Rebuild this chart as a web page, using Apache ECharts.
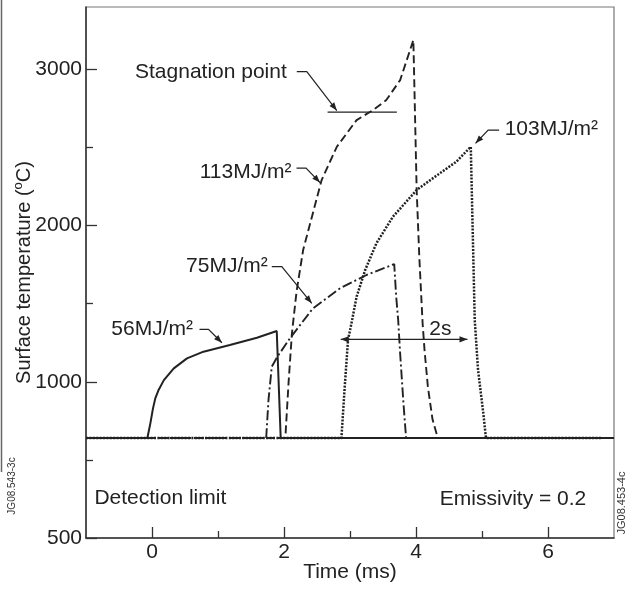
<!DOCTYPE html>
<html><head><meta charset="utf-8">
<script src="https://cdn.jsdelivr.net/npm/echarts@6/dist/echarts.min.js"></script>
<style>html,body{margin:0;padding:0;background:#fff}#c{width:633px;height:592px}</style>
</head><body><div id="c"></div>
<script>
// ---- data (time in ms, temperature in °C) ----
const xMajorTicks = [0, 2, 4, 6];
const xMinorTicks = [1, 3, 5];
const yMajorTicks = [500, 1000, 2000, 3000];
const yMinorTicks = [750, 1500, 2500];

const t56 = [-1, -0.07, -0.025, 0.015, 0.05, 0.10, 0.18, 0.33, 0.53, 0.78, 1.18, 1.59, 1.89, 1.95, 7];
const T56 = [820, 820, 867, 915, 947, 974, 1011, 1086, 1150, 1193, 1236, 1282, 1325, 820, 820];

const t75 = [-1, 1.73, 1.765, 1.815, 1.90, 2.09, 2.44, 2.85, 3.25, 3.67, 3.70, 3.73, 3.76, 3.81, 3.85, 6.9];
const T75 = [820, 820, 942, 1097, 1161, 1279, 1471, 1599, 1684, 1754, 1545, 1396, 1180, 931, 820, 820];

const t113 = [-1, 2.02, 2.07, 2.12, 2.19, 2.29, 2.57, 2.80, 3.10, 3.35, 3.55, 3.76, 3.96, 3.98, 4.01, 4.05, 4.10, 4.13, 4.18, 4.25, 4.33, 6.9];
const T113 = [820, 820, 1000, 1310, 1577, 1844, 2292, 2505, 2676, 2740, 2804, 2932, 3188, 3199, 2228, 1800, 1375, 1200, 984, 880, 820, 820];

const t103 = [-1, 2.87, 2.92, 2.97, 3.02, 3.10, 3.23, 3.40, 3.65, 4.01, 4.36, 4.61, 4.83, 4.89, 4.94, 5.02, 5.06, 6.8];
const T103 = [820, 820, 984, 1268, 1370, 1545, 1716, 1887, 2057, 2228, 2335, 2409, 2505, 1396, 1076, 899, 820, 820];

const tStag = [2.66, 3.71];
const TStag = [2727, 2727];

const tSpan = [2.86, 4.78];   // "2s" double arrow
const TSpan = 1272;

// ---- piecewise temperature scale: 500,1000,2000,3000 equally spaced ----
const V = T => T <= 1000 ? (T - 500) / 500 : 1 + (T - 1000) / 1000;
const TT = v => v <= 1 ? 500 + 500 * v : 1000 + 1000 * (v - 1);
const pairs = (ts, Ts) => ts.map((t, i) => [t, V(Ts[i])]);

const F = "'Liberation Sans', Arial, Helvetica, sans-serif";
const INK = '#222';
const chart = echarts.init(document.getElementById('c'), null, {renderer: 'canvas'});

const lineSeries = (data, type, width, cap) => ({
  type: 'line', data, symbol: 'none', smooth: false, silent: true,
  lineStyle: {color: INK, width, type, cap: cap || 'butt'}
});

const option = {
  animation: false,
  backgroundColor: '#fff',
  grid: {left: 86, right: 19, top: 7, bottom: 54, show: true, borderColor: '#777', borderWidth: 1.2,
    containLabel: false, outerBoundsMode: 'none'},
  xAxis: [{
    type: 'value', min: -1, max: 7, interval: 1,
    axisLine: {show: true, onZero: false, lineStyle: {color: '#333', width: 1.5}},
    splitLine: {show: false},
    axisTick: {show: true, inside: true, length: 11, customValues: xMajorTicks, lineStyle: {color: '#333', width: 1.3}},
    axisLabel: {customValues: xMajorTicks, fontSize: 21, color: INK, fontFamily: F, margin: 4},
    name: 'Time (ms)', nameLocation: 'middle', nameGap: 24, nameMoveOverlap: false,
    nameTextStyle: {fontSize: 21, color: INK, fontFamily: F}
  }, {
    type: 'value', min: -1, max: 7, interval: 1, position: 'bottom',
    axisLine: {show: false, onZero: false}, splitLine: {show: false}, axisLabel: {show: false},
    axisTick: {show: true, inside: true, length: 7, customValues: xMinorTicks, lineStyle: {color: '#333', width: 1.3}}
  }],
  yAxis: [{
    type: 'value', min: 0, max: V(3400),
    axisLine: {show: true, onZero: false, lineStyle: {color: '#333', width: 1.5}},
    splitLine: {show: false},
    axisTick: {show: true, inside: true, length: 11, customValues: yMajorTicks.map(V), lineStyle: {color: '#333', width: 1.3}},
    axisLabel: {customValues: yMajorTicks.map(V), fontSize: 21, color: INK, fontFamily: F, margin: 4,
      formatter: v => String(Math.round(TT(v)))},
    name: 'Surface temperature ({s|o}C)', nameLocation: 'middle', nameGap: 50, nameMoveOverlap: false,
    nameTextStyle: {fontSize: 20, color: INK, fontFamily: F, lineHeight: 24,
      rich: {s: {fontSize: 13, lineHeight: 13, verticalAlign: 'top', color: INK, fontFamily: F}}}
  }, {
    type: 'value', min: 0, max: V(3400), position: 'left',
    axisLine: {show: false, onZero: false}, splitLine: {show: false}, axisLabel: {show: false},
    axisTick: {show: true, inside: true, length: 7, customValues: yMinorTicks.map(V), lineStyle: {color: '#333', width: 1.3}}
  }],
  series: [
    lineSeries(pairs(t103, T103), [2, 1.4], 2.5),
    lineSeries(pairs(t113, T113), [8, 4], 1.9),
    lineSeries(pairs(t75, T75), [10, 3, 2, 3], 1.9),
    lineSeries(pairs(t56, T56), 'solid', 2),
    lineSeries(pairs(tStag, TStag), 'solid', 1.3)
  ]
};
chart.setOption(option);

// ---- annotations (anchored at data coordinates) ----
const P = (t, T) => chart.convertToPixel({xAxisIndex: 0, yAxisIndex: 0}, [t, V(T)]);
const els = [];
function arrowHead(tip, from, L, w) {
  const dx = tip[0] - from[0], dy = tip[1] - from[1];
  const d = Math.hypot(dx, dy) || 1, ux = dx / d, uy = dy / d;
  const bx = tip[0] - ux * L, by = tip[1] - uy * L;
  els.push({type: 'polygon', z: 100, shape: {points: [tip, [bx - uy * w, by + ux * w], [bx + uy * w, by - ux * w]]}, style: {fill: INK}});
}
function text(str, x, y, align, size, extra) {
  els.push(Object.assign({type: 'text', z: 100, x, y,
    style: {text: str, fontSize: size || 21, fontFamily: F, fill: INK, align: align, verticalAlign: 'middle'}}, extra || {}));
}
const annotations = [
  {label: 'Stagnation point', tip: [2.80, 2737], elbow: [-30, -39], start: [-40, -39], gap: 10, dy: 1},
  {label: '113MJ/m²', tip: [2.546, 2276], elbow: [-14, -14.5], start: [-23.5, -14.5], gap: 5, dy: 4},
  {label: '75MJ/m²', tip: [2.421, 1503], elbow: [-30, -36.6], start: [-40, -36.6], gap: 4, dy: 0},
  {label: '56MJ/m²', tip: [1.059, 1250], elbow: [-13.4, -13.4], start: [-22.4, -13.4], gap: 6.5, dy: 0},
  {label: '103MJ/m²', tip: [4.902, 2527], elbow: [12.6, -13.3], start: [23.6, -13.3], gap: 5.5, dy: -1}
];
annotations.forEach(a => {
  const tip = P(a.tip[0], a.tip[1]);
  const el = [tip[0] + a.elbow[0], tip[1] + a.elbow[1]];
  const st = [tip[0] + a.start[0], tip[1] + a.start[1]];
  els.push({type: 'polyline', z: 100, shape: {points: [st, el, tip]}, style: {stroke: INK, lineWidth: 1.2, fill: null}});
  arrowHead(tip, el, 8, 3);
  const right = a.start[0] > 0;
  text(a.label, st[0] + (right ? a.gap : -a.gap), st[1] + a.dy, right ? 'left' : 'right');
});
// "2s" span arrow
const s0 = P(tSpan[0], TSpan), s1 = P(tSpan[1], TSpan);
els.push({type: 'line', z: 100, shape: {x1: s0[0], y1: s0[1], x2: s1[0], y2: s1[1]}, style: {stroke: INK, lineWidth: 1.2}});
arrowHead(s0, s1, 8, 3.2);
arrowHead(s1, s0, 8, 3.2);
const st2 = P(4.37, TSpan);
text('2s', st2[0], st2[1] - 10, 'center');
// corner notes
const dl = P(-0.873, 627), em = P(6.58, 625);
text('Detection limit', dl[0], dl[1], 'left');
text('Emissivity = 0.2', em[0], em[1], 'right');
// figure reference codes and edge of neighbouring panel
text('JG08.543-3c', 12, 486, 'center', 10, {rotation: Math.PI / 2, style: {text: 'JG08.543-3c', fontSize: 10, fontFamily: F, fill: '#333', align: 'center', verticalAlign: 'middle'}});
text('JG08.453-4c', 622, 503, 'center', 11, {rotation: Math.PI / 2, style: {text: 'JG08.453-4c', fontSize: 11, fontFamily: F, fill: '#333', align: 'center', verticalAlign: 'middle'}});
els.push({type: 'line', z: 100, shape: {x1: 1.5, y1: 0, x2: 1.5, y2: 472}, style: {stroke: '#666', lineWidth: 1.5}});

chart.setOption({graphic: {elements: els}});
</script>
</body></html>
